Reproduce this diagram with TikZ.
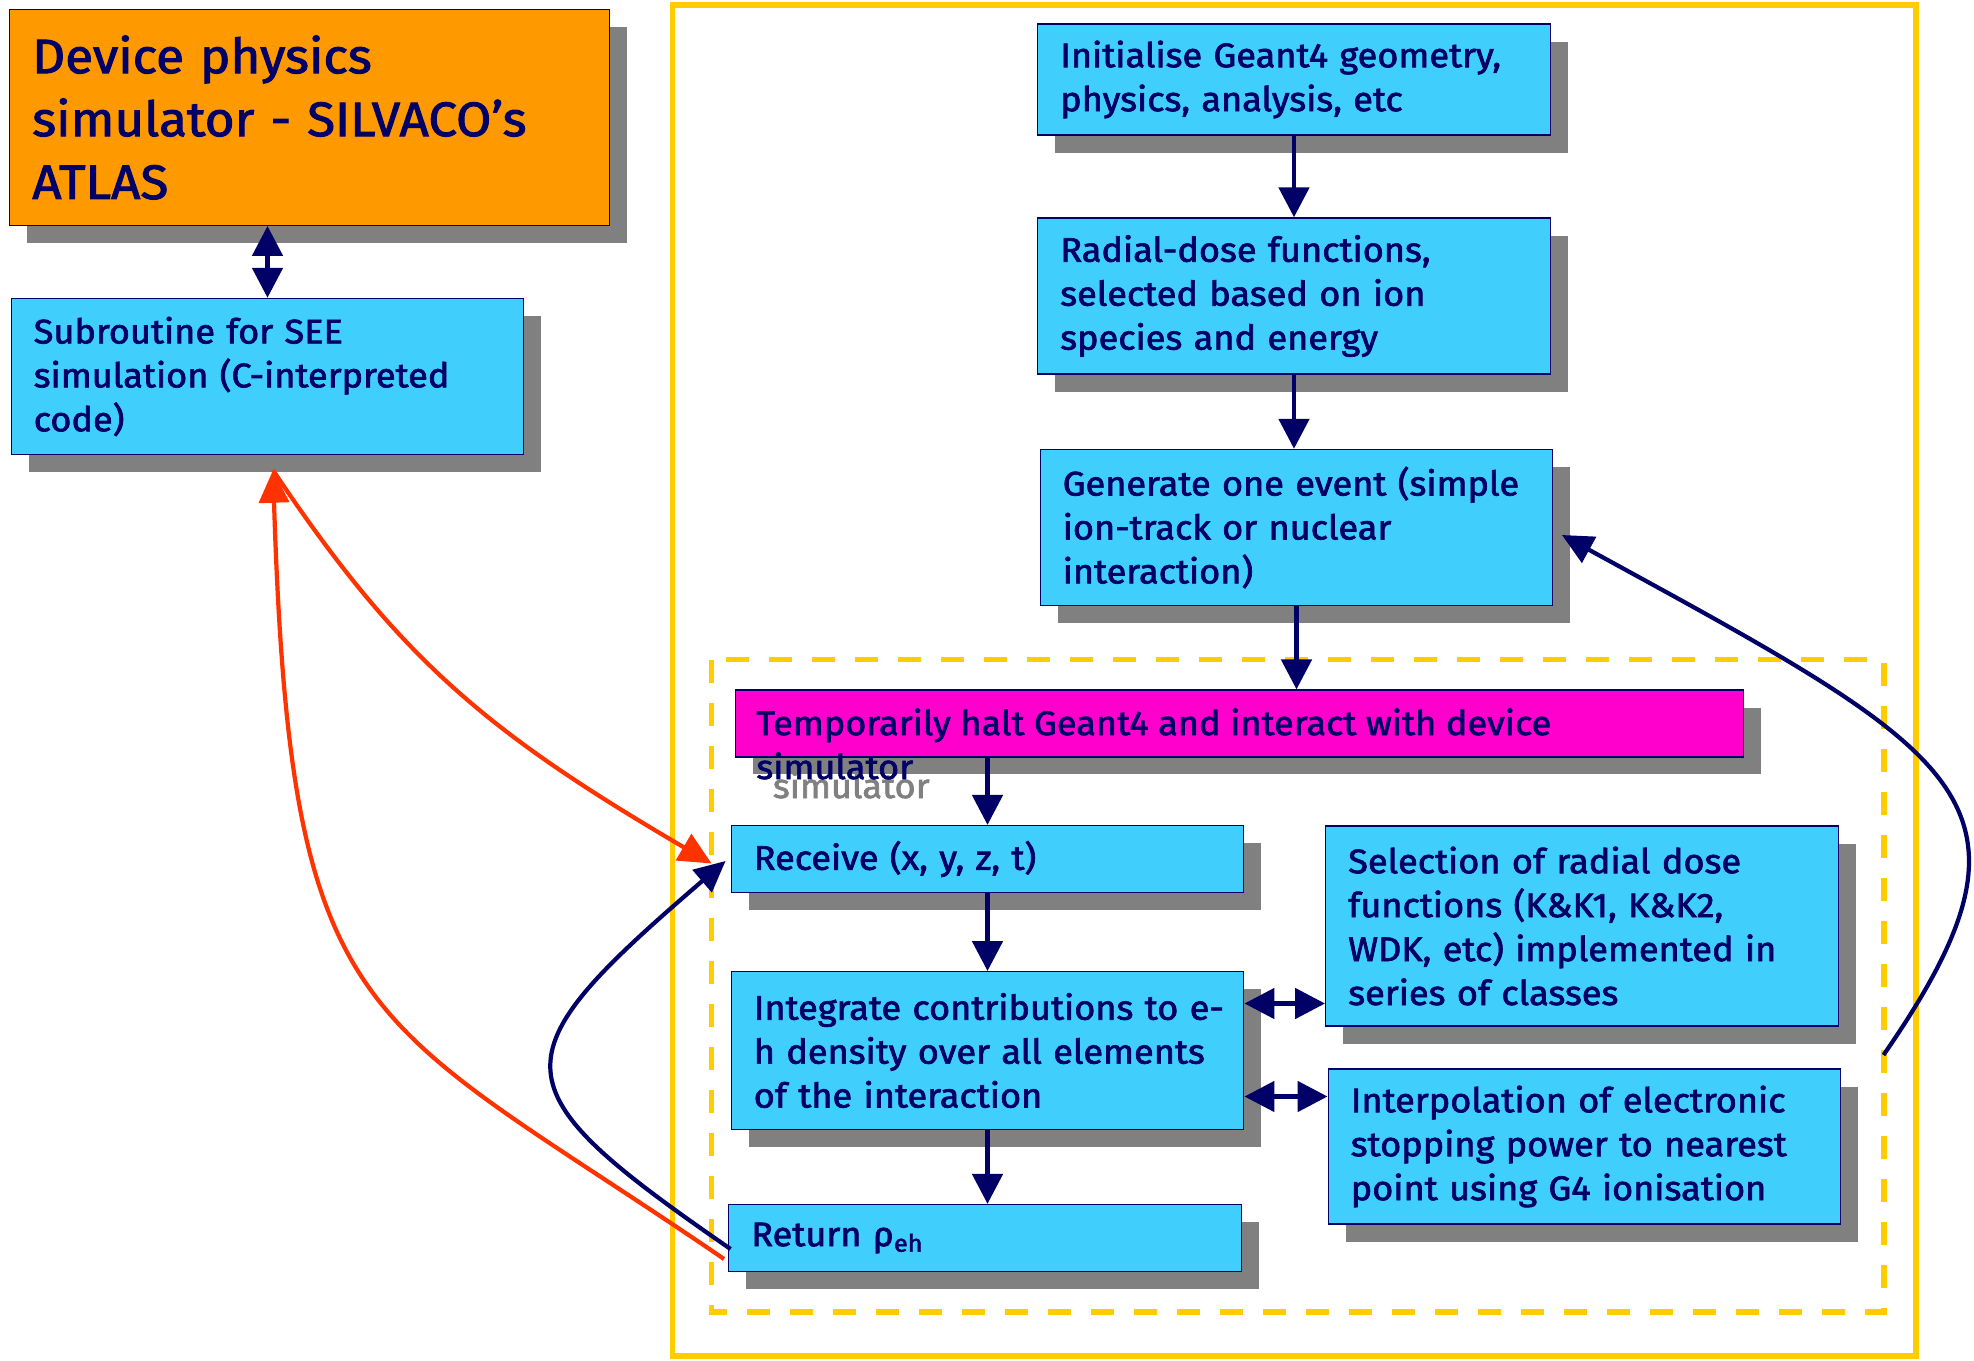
\documentclass[tikz,border=0pt]{standalone}
\usepackage{fontspec}
\setmainfont{Fira Sans}[FakeBold=2,FakeStretch=1.06]
\usepackage{tikz}
\usetikzlibrary{arrows.meta,shadows,calc}
\definecolor{navy}{RGB}{0,0,102}
\definecolor{sky}{RGB}{64,206,252}
\definecolor{amber}{RGB}{255,153,0}
\definecolor{pinkfill}{RGB}{255,0,204}
\definecolor{frameyellow}{RGB}{255,204,0}
\definecolor{fire}{RGB}{255,51,0}
\definecolor{shadowgrey}{RGB}{128,128,128}
\newcommand{\boxfont}{\fontsize{19.4}{25}\selectfont}
\newcommand{\bigboxfont}{\fontsize{27.5}{35.8}\selectfont}
\tikzstyle{bn}=[rectangle,fill=sky,draw=navy,line width=0.8pt,text=navy,
  font=\boxfont,align=left,text width=9.35cm,inner xsep=0.45cm,inner ysep=0pt,
  drop shadow={shadow xshift=0.35cm,shadow yshift=-0.35cm,fill=shadowgrey,opacity=1}]
\tikzstyle{orn}=[bn,fill=amber,text width=11.09cm,font=\bigboxfont]
\tikzstyle{mn}=[bn,fill=pinkfill,text width=19.27cm]
\tikzstyle{tn}=[text=navy,font=\boxfont,align=left,inner sep=0pt,anchor=base west]
\tikzstyle{sn}=[tn,text=shadowgrey]
\tikzstyle{arr}=[draw=navy,line width=2.8pt,-{Triangle[length=0.6cm,width=0.6cm]}]
\tikzstyle{dbl}=[draw=navy,line width=2.8pt,
  {Triangle[length=0.6cm,width=0.6cm]}-{Triangle[length=0.6cm,width=0.6cm]}]
\tikzstyle{curve}=[draw=navy,line width=2.4pt,-{Triangle[length=0.62cm,width=0.58cm]}]
\tikzstyle{redcurve}=[draw=fire,line width=2.4pt,-{Triangle[length=0.65cm,width=0.6cm]}]
\tikzstyle{frame}=[draw=frameyellow,line width=3.4pt]
\tikzstyle{dashframe}=[draw=frameyellow,line width=3.4pt,dash pattern=on 0.46cm off 0.40cm]
\tikzstyle{none}=[]

\begin{document}
\begin{tikzpicture}
    \useasboundingbox (0, 0) rectangle (39.48, -27.22);
    \draw [style=frame] (13.45, -0.10) rectangle (38.32, -27.12);
    \draw [style=dashframe] (14.23, -13.19) rectangle (37.67, -26.24);
    \node [style=orn, minimum height=4.31cm] (0) at (6.19, -2.35) {Device physics\\simulator - SILVACO’s\\ATLAS};
    \node [style=bn, minimum height=3.12cm] (1) at (5.35, -7.53) {Subroutine for SEE\\simulation (C-interpreted\\code)};
    \node [style=bn, minimum height=2.22cm] (2) at (25.88, -1.59) {Initialise Geant4 geometry,\\physics, analysis, etc};
    \node [style=bn, minimum height=3.12cm] (3) at (25.88, -5.92) {Radial-dose functions,\\selected based on ion\\species and energy};
    \node [style=bn, minimum height=3.12cm] (4) at (25.93, -10.55) {Generate one event (simple\\ion-track or nuclear\\interaction)};
    \node [style=mn, minimum height=1.335cm] (5) at (24.79, -14.47) {};
    \node [style=sn] (12) at ([shift={(0.76, -1.49)}]5.west) {simulator};
    \node [style=tn] (11) at ([shift={(0.43, -1.11)}]5.west) {Temporarily halt Geant4 and interact with device\\simulator};
    \node [style=bn, minimum height=1.335cm] (6) at (19.75, -17.18) {Receive (x, y, z, t)};
    \node [style=bn, minimum height=3.15cm] (7) at (19.75, -21.01) {\mbox{Integrate contributions to e-}\\h density over all elements\\of the interaction};
    \node [style=bn, minimum height=1.335cm] (8) at (19.70, -24.76) {Return ρ\textsubscript{eh}};
    \node [style=bn, minimum height=4.00cm] (9) at (31.64, -18.52) {Selection of radial dose\\functions (K\&K1, K\&K2,\\WDK, etc) implemented in\\series of classes};
    \node [style=bn, minimum height=3.10cm] (10) at (31.69, -22.93) {Interpolation of electronic\\stopping power to nearest\\point using G4 ionisation};
    \coordinate (13) at ([yshift=0.94cm]7.east);
    \coordinate (14) at ([yshift=-0.92cm]7.east);
    \coordinate (15) at (37.67, -21.10);
    \draw [style=arr] (2.south) to (3.north);
    \draw [style=arr] (3.south) to (3.south |- 4.north);
    \draw [style=arr] (4.south) to (4.south |- 5.north);
    \draw [style=arr] (6.north |- 5.south) to (6.north);
    \draw [style=arr] (6.south) to (7.north);
    \draw [style=arr] (7.south) to (7.south |- 8.north);
    \draw [style=dbl] (1.north) to (1.north |- 0.south);
    \draw [style=dbl] (13) to (13 -| 9.west);
    \draw [style=dbl] (14) to (14 -| 10.west);
    \draw [style=redcurve] ([shift={(0.11, -0.30)}]1.south) .. controls (7.98, -13.17) and (9.72, -14.63) .. ([shift={(-0.38, -0.09)}]6.west);
    \draw [style=redcurve] ([shift={(-0.08, -0.42)}]8.west) .. controls (7.23, -20.22) and (5.82, -20.75) .. ([shift={(0.11, -0.30)}]1.south);
    \draw [style=curve] ([shift={(0.05, -0.22)}]8.west) .. controls (9.90, -21.73) and (9.90, -21.18) .. ([shift={(-0.10, -0.04)}]6.west);
    \draw [style=curve] (15) .. controls (41.19, -16.01) and (39.30, -15.11) .. ([shift={(0.17, -0.15)}]4.east);
\end{tikzpicture}
\end{document}
